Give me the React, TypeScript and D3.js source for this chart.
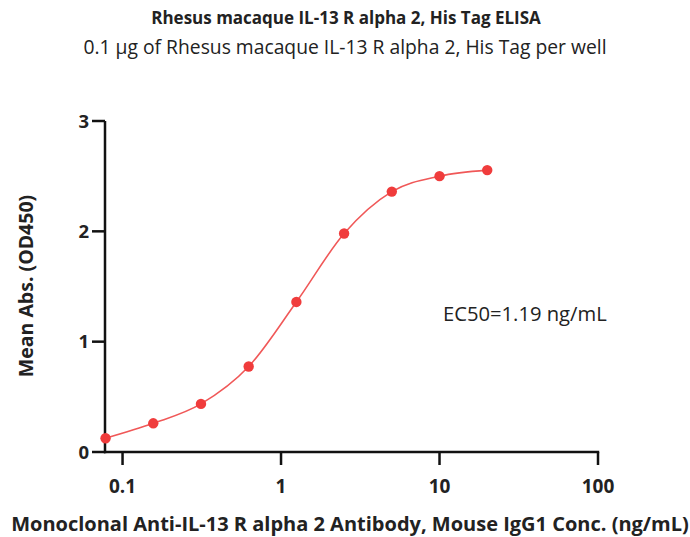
import * as d3 from "d3";

const concentrations = [0.078125, 0.15625, 0.3125, 0.625, 1.25, 2.5, 5, 10, 20];
const absorbance = [0.125, 0.26, 0.436, 0.775, 1.36, 1.98, 2.36, 2.5, 2.555];
const xTicks = [0.1, 1, 10, 100];
const yTicks = [0, 1, 2, 3];

const W = 690;
const H = 537;
const FONT = "'Open Sans', 'DejaVu Sans', sans-serif";
const RED = "#f03c3c";
const LINE_RED = "#f05858";

export default function App() {
  const x = d3.scaleLog().domain([0.0775, 100]).range([105, 598]);
  const y = d3.scaleLinear().domain([0, 3]).range([452, 121]);

  const pts = concentrations.map((c, i) => [x(c), y(absorbance[i])] as [number, number]);
  const line = d3.line().curve(d3.curveMonotoneX)(pts) || "";

  return (
    <div style={{ position: "absolute", left: 0, top: 0 }}>
      <svg width={W} height={H} style={{ display: "block", background: "#fff" }} fontFamily={FONT}>
        <text x={346} y={24} textAnchor="middle" fontWeight="bold" fontSize={17} fill="#222">
          Rhesus macaque IL-13 R alpha 2, His Tag ELISA
        </text>
        <text x={345} y={54} textAnchor="middle" fontSize={19.3} fill="#222">
          0.1 µg of Rhesus macaque IL-13 R alpha 2, His Tag per well
        </text>

        {/* y axis */}
        <line x1={105} x2={105} y1={y(3)} y2={y(0) + 1.2} stroke="#111" strokeWidth={2.5} />
        {yTicks.map((t) => (
          <g key={t}>
            <line x1={92} x2={105} y1={y(t)} y2={y(t)} stroke="#111" strokeWidth={2.5} />
            <text x={89} y={y(t)} dy="0.36em" textAnchor="end" fontWeight="bold" fontSize={18.5} fill="#222">
              {t}
            </text>
          </g>
        ))}

        {/* x axis */}
        <line x1={104} x2={x(100) + 1.2} y1={452} y2={452} stroke="#111" strokeWidth={2.5} />
        {xTicks.map((t) => (
          <g key={t}>
            <line x1={x(t)} x2={x(t)} y1={452} y2={465} stroke="#111" strokeWidth={2.5} />
            <text x={x(t)} y={493} textAnchor="middle" fontWeight="bold" fontSize={19} fill="#222">
              {d3.format("~g")(t)}
            </text>
          </g>
        ))}

        <text x={350} y={531} textAnchor="middle" fontWeight="bold" fontSize={20} fill="#222">
          Monoclonal Anti-IL-13 R alpha 2 Antibody, Mouse IgG1 Conc. (ng/mL)
        </text>
        <text transform="translate(33,286) rotate(-90)" textAnchor="middle" fontWeight="bold" fontSize={19.5} fill="#222">
          Mean Abs. (OD450)
        </text>

        <path d={line} fill="none" stroke={LINE_RED} strokeWidth={1.6} />
        {pts.map((p, i) => (
          <circle key={i} cx={p[0]} cy={p[1]} r={5.2} fill={RED} />
        ))}

        <text x={443} y={321} fontSize={20.2} fill="#222">
          EC50=1.19 ng/mL
        </text>
      </svg>
    </div>
  );
}
